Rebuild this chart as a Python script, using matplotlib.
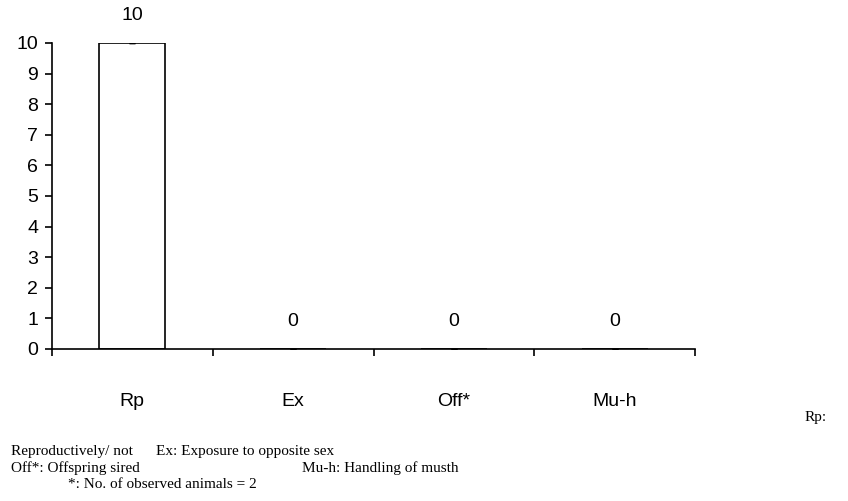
import matplotlib
matplotlib.use("Agg")
import matplotlib.pyplot as plt

categories = ["Rp", "Ex", "Off*", "Mu-h"]
values = [10, 0, 0, 0]
y_ticks = list(range(0, 11))

plt.rcParams["font.family"] = ["Liberation Sans", "DejaVu Sans"]

fig = plt.figure(figsize=(8.48, 5.01), dpi=100)
ax = fig.add_axes([0.0613, 0.3034, 0.7583, 0.6108])

x = list(range(len(categories)))
ax.bar(x, values, width=0.41, color="white", edgecolor="black", linewidth=1.2)
ax.errorbar(x, values, yerr=[0] * len(values), fmt="none", ecolor="black",
            capsize=2, elinewidth=0.8)

for xi, v in zip(x, values):
    ax.annotate(str(v), (xi, v), xytext=(0, 20), textcoords="offset points",
                ha="center", va="center", fontsize=14)

ax.set_xlim(-0.5, len(categories) - 0.5)
ax.set_ylim(0, 10)
ax.set_yticks(y_ticks)
ax.tick_params(axis="y", direction="out", length=5, width=1.2, labelsize=14, pad=5)

# category boundaries get the visible ticks, labels sit on hidden minor ticks
ax.set_xticks([i - 0.5 for i in range(len(categories) + 1)])
ax.set_xticklabels([])
ax.tick_params(axis="x", which="major", direction="out", length=5, width=1.2)
ax.set_xticks(x, minor=True)
ax.set_xticklabels(categories, minor=True)
ax.tick_params(axis="x", which="minor", length=0, labelsize=14, pad=32)

for side in ["top", "right"]:
    ax.spines[side].set_visible(False)
for side in ["left", "bottom"]:
    ax.spines[side].set_linewidth(1.2)

serif = ["Liberation Serif", "DejaVu Serif"]
notes = [
    (805, 418, "Rp:"),
    (11, 451, "Reproductively/ not"),
    (156, 451, "Ex: Exposure to opposite sex"),
    (11, 468, "Off*: Offspring sired"),
    (302, 468, "Mu-h: Handling of musth"),
    (68, 485, "*: No. of observed animals = 2"),
]
for px, py, s in notes:
    fig.text(px / 848, 1 - py / 501, s, family=serif, fontsize=11, va="center")

fig.savefig("out.png", dpi=100)
